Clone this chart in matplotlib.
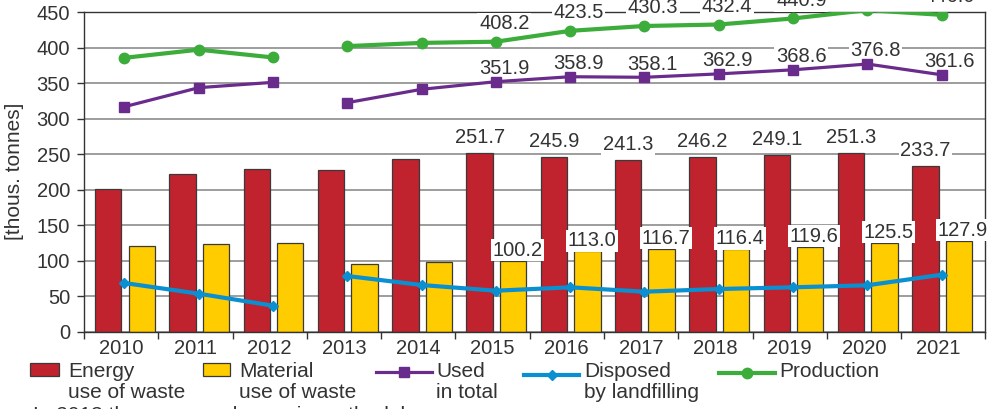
import numpy as np
import matplotlib.pyplot as plt
from matplotlib.patches import Rectangle
from matplotlib.lines import Line2D

plt.rcParams['font.family'] = ['Liberation Sans', 'DejaVu Sans']

years = ["2010", "2011", "2012", "2013", "2014", "2015",
         "2016", "2017", "2018", "2019", "2020", "2021"]
energy = [200.9, 221.5, 229.0, 227.0, 242.7, 251.7,
          245.9, 241.3, 246.2, 249.1, 251.3, 233.7]
material = [120.2, 123.9, 124.4, 95.3, 98.6, 100.2,
            113.0, 116.7, 116.4, 119.6, 125.5, 127.9]
used_total = [316.7, 343.5, 351.0, 322.4, 341.2, 351.9,
              358.9, 358.1, 362.9, 368.6, 376.8, 361.6]
landfill = [68.5, 53.5, 36.6, 78.4, 65.7, 57.7,
            62.5, 56.3, 60.1, 62.5, 65.3, 80.2]
production = [385.5, 397.0, 386.0, 402.0, 406.5, 408.2,
              423.5, 430.3, 432.4, 440.9, 452.6, 446.0]

# values labelled from 2015 on; lines break at 2013 (methodology change)
label_from = 5
break_at = 3

RED = "#c0232e"
YEL = "#ffcc00"
PUR = "#6a2c8c"
BLU = "#0a8fd0"
GRN = "#3cac3a"
TXT = "#333333"
FS = 14.5

W, H = 994, 409
fig = plt.figure(figsize=(W / 100, H / 100), dpi=100)
ax = fig.add_axes([84 / W, (H - 331.7) / H, (985 - 84) / W, (331.7 - 12) / H])

x = np.arange(len(years))
bw = 0.355
ax.bar(x - 0.173, energy, bw, color=RED, edgecolor="#3a3a3a", linewidth=0.9, zorder=2)
ax.bar(x + 0.277, material, bw, color=YEL, edgecolor="#3a3a3a", linewidth=0.9, zorder=2)

xl = x + 0.045


def seg_plot(vals, **kw):
    ax.plot(xl[:break_at], vals[:break_at], **kw)
    ax.plot(xl[break_at:], vals[break_at:], **kw)


seg_plot(landfill, color=BLU, lw=3.0, marker="D", ms=5.5, zorder=4)
seg_plot(used_total, color=PUR, lw=2.3, marker="s", ms=6.5, zorder=4)
seg_plot(production, color=GRN, lw=3.0, marker="o", ms=7.5, zorder=4)

box = dict(boxstyle="square,pad=0.08", fc="white", ec="none")


def label(xv, yv, dx, dy):
    ax.annotate(f"{yv:.1f}", (xv, yv), xytext=(dx, dy), textcoords="offset points",
                ha="center", va="baseline", fontsize=FS, color=TXT, bbox=box,
                zorder=3, annotation_clip=False)


for i in range(label_from, len(years)):
    label(x[i] - 0.173, energy[i], 0, 7.2)
    label(x[i] + 0.277, material[i], 3, 3.6)
    label(xl[i], used_total[i], 6, 5.5)
    label(xl[i], production[i], 6, 9.0)

ax.set_xlim(-0.5, 11.63)
ax.set_ylim(0, 450)
ax.set_yticks(range(0, 451, 50))
ax.yaxis.grid(True, color="#8c8c8c", lw=1.2, zorder=0)
ax.set_axisbelow(True)
ax.set_xticks(x)
ax.set_xticklabels(years)
ax.set_xticks(list(np.arange(-0.5, 11, 1.0)) + [11.63], minor=True)
ax.tick_params(axis="x", which="major", length=0, pad=5, labelsize=FS, labelcolor=TXT)
ax.tick_params(axis="x", which="minor", length=5, width=1, color=TXT)
ax.tick_params(axis="y", length=5, width=1, color=TXT, pad=5, labelsize=FS, labelcolor=TXT)
for s in ax.spines.values():
    s.set_color(TXT)
    s.set_linewidth(1.0)

fig.text(15 / W, 1 - 171.8 / H, "[thous. tonnes]", rotation=90, ha="center",
         va="center", fontsize=15, color=TXT)


def fx(px):
    return px / W


def fy(py):
    return 1 - py / H


# legend, drawn by hand
fig.patches.append(Rectangle((fx(30), fy(376)), fx(59) - fx(30), fy(363) - fy(376),
                             transform=fig.transFigure, fc=RED, ec="#3a3a3a", lw=0.9))
fig.patches.append(Rectangle((fx(203), fy(376)), fx(230) - fx(203), fy(363) - fy(376),
                             transform=fig.transFigure, fc=YEL, ec="#3a3a3a", lw=0.9))
for (x0, x1, yy, c, m, ms, lw) in [(376, 432, 372.3, PUR, "s", 6.5, 2.3),
                                   (524, 579, 374.7, BLU, "D", 5.5, 3.0),
                                   (719, 775, 373, GRN, "o", 7.5, 3.0)]:
    fig.lines.append(Line2D([fx(x0), fx(x1)], [fy(yy), fy(yy)], transform=fig.transFigure,
                            color=c, lw=lw))
    fig.lines.append(Line2D([fx((x0 + x1) / 2)], [fy(yy)], transform=fig.transFigure,
                            color=c, marker=m, ms=ms))

legend_text = [(68, "Energy", "use of waste"), (239, "Material", "use of waste"),
               (436, "Used", "in total"), (584, "Disposed", "by landfilling"),
               (779, "Production", "")]
for px, l1, l2 in legend_text:
    fig.text(fx(px), fy(377), l1, ha="left", va="baseline", fontsize=15, color=TXT)
    if l2:
        fig.text(fx(px), fy(398.5), l2, ha="left", va="baseline", fontsize=15, color=TXT)

fig.text(fx(33), fy(421), "In 2013 there was a change in methodology", ha="left",
         va="baseline", fontsize=15, color=TXT)

fig.savefig("out.png", dpi=100)
